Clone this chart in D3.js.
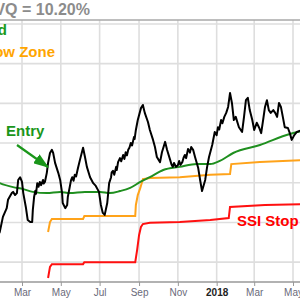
<!DOCTYPE html>
<html><head><meta charset="utf-8">
<script src="https://cdn.jsdelivr.net/npm/d3@7/dist/d3.min.js"></script>
<style>html,body{margin:0;padding:0;background:#fff;overflow:hidden}svg{display:block}</style>
</head><body><svg id="c" width="300" height="300"></svg>
<script>
const priceDates = ["2017-01-19","2017-01-25","2017-01-30","2017-02-05","2017-02-07","2017-02-13","2017-02-15","2017-02-18","2017-02-21","2017-02-23","2017-02-26","2017-03-01","2017-03-03","2017-03-07","2017-03-10","2017-03-14","2017-03-17","2017-03-18","2017-03-20","2017-03-22","2017-03-23","2017-03-25","2017-03-27","2017-03-29","2017-03-31","2017-04-03","2017-04-04","2017-04-06","2017-04-09","2017-04-11","2017-04-14","2017-04-17","2017-04-19","2017-04-22","2017-04-27","2017-04-30","2017-05-03","2017-05-04","2017-05-08","2017-05-11","2017-05-12","2017-05-15","2017-05-17","2017-05-19","2017-05-21","2017-05-23","2017-05-25","2017-05-28","2017-05-31","2017-06-05","2017-06-08","2017-06-11","2017-06-16","2017-06-21","2017-06-25","2017-06-30","2017-07-03","2017-07-06","2017-07-09","2017-07-13","2017-07-16","2017-07-19","2017-07-20","2017-07-22","2017-07-24","2017-07-27","2017-07-28","2017-07-30","2017-08-02","2017-08-04","2017-08-07","2017-08-09","2017-08-11","2017-08-13","2017-08-15","2017-08-17","2017-08-19","2017-08-21","2017-08-24","2017-08-25","2017-08-27","2017-08-30","2017-09-04","2017-09-07","2017-09-10","2017-09-15","2017-09-18","2017-09-23","2017-09-26","2017-09-29","2017-10-04","2017-10-07","2017-10-12","2017-10-15","2017-10-20","2017-10-22","2017-10-24","2017-10-26","2017-10-29","2017-11-01","2017-11-03","2017-11-05","2017-11-08","2017-11-10","2017-11-12","2017-11-14","2017-11-17","2017-11-20","2017-11-22","2017-11-25","2017-11-28","2017-12-03","2017-12-06","2017-12-09","2017-12-14","2017-12-17","2017-12-20","2017-12-25","2017-12-29","2018-01-01","2018-01-03","2018-01-05","2018-01-08","2018-01-10","2018-01-13","2018-01-16","2018-01-19","2018-01-22","2018-01-25","2018-01-28","2018-01-31","2018-02-05","2018-02-10","2018-02-13","2018-02-16","2018-02-19","2018-02-22","2018-02-26","2018-03-01","2018-03-05","2018-03-09","2018-03-12","2018-03-15","2018-03-18","2018-03-21","2018-03-24","2018-03-27","2018-03-31","2018-04-03","2018-04-06","2018-04-09","2018-04-12","2018-04-15","2018-04-18","2018-04-23","2018-04-26","2018-04-29","2018-05-03","2018-05-07","2018-05-15"];
const priceValues = [15.6,17.6,21.4,23.6,25.7,27.4,27.7,26.9,27.4,30.7,31.4,30.2,27.4,23.9,20.6,20.1,20.1,23.1,26.4,28.0,27.2,29.9,29.0,30.2,29.4,30.7,29.8,30.2,32.5,35.0,37.5,38.3,37.5,35.0,32.5,30.7,27.4,24.9,23.6,24.4,26.4,28.9,30.6,31.4,30.5,32.0,31.6,33.7,35.7,38.8,36.5,34.0,31.4,29.9,29.2,27.7,24.4,22.4,21.9,24.9,29.9,31.4,32.6,33.0,32.0,34.0,33.2,35.2,36.2,35.4,37.0,36.0,37.7,36.9,38.3,38.9,40.0,39.4,41.5,41.0,43.3,45.8,48.8,49.6,47.6,45.3,43.3,40.8,39.0,36.5,35.2,37.7,40.3,38.3,35.7,34.6,34.0,35.0,34.0,34.4,35.5,34.5,35.2,36.3,37.0,36.2,38.5,37.6,39.0,38.3,36.5,33.7,30.7,27.9,30.7,34.0,36.5,39.5,42.8,42.0,44.0,43.4,45.8,45.0,46.6,47.6,49.1,52.6,50.1,45.8,46.6,44.0,42.8,46.6,50.8,51.4,48.3,45.8,43.3,45.1,43.8,42.5,45.8,49.1,50.8,48.3,47.6,48.3,47.6,46.6,50.1,49.1,46.6,44.0,43.8,42.5,40.8,42.0,42.8,43.3];

const maDates = ["2017-01-18","2017-01-25","2017-02-15","2017-03-03","2017-03-18","2017-04-09","2017-04-30","2017-05-15","2017-06-08","2017-07-02","2017-07-17","2017-08-02","2017-08-18","2017-09-03","2017-09-18","2017-10-09","2017-11-04","2017-12-01","2017-12-22","2018-01-06","2018-01-27","2018-03-10","2018-04-26","2018-05-15"];
const maValues = [30.4,29.9,28.9,28.4,27.7,27.4,27.7,27.4,27.7,27.7,27.4,27.9,28.7,30.2,31.4,33.2,34.0,34.7,34.7,35.5,37.5,39.5,42.3,43.0];

const zoneDates = ["2017-04-11","2017-04-14","2017-04-17","2017-06-05","2017-06-07","2017-08-26","2017-08-27","2017-08-30","2017-09-03","2017-09-07","2017-09-18","2017-11-04","2017-12-22","2018-01-22","2018-01-24","2018-03-10","2018-05-17"];
const zoneValues = [17.6,20.1,20.9,20.9,21.6,21.6,24.4,26.9,28.7,30.9,31.2,31.4,32.0,32.2,34.7,35.2,35.7];

const stopDates = ["2017-04-11","2017-04-14","2017-04-17","2017-06-05","2017-06-07","2017-08-26","2017-08-29","2017-09-01","2017-09-04","2017-09-07","2017-09-18","2017-11-04","2017-12-22","2018-01-20","2018-01-22","2018-03-18","2018-05-17"];
const stopValues = [6.0,8.8,9.5,9.5,10.0,10.0,13.1,16.8,18.9,19.6,19.9,20.1,20.6,21.1,23.9,24.4,24.6];

const xTickDates = ["2017-03-01","2017-05-01","2017-07-01","2017-09-01","2017-11-01","2018-01-01","2018-03-01","2018-05-01"];
const xTickLabels = ["Mar","May","Jul","Sep","Nov","2018","Mar","May"];
const yTicks = [10,20,30,40,50,60,70];

const parse = d3.timeParse("%Y-%m-%d");
const zip = (ds, vs) => ds.map((d, i) => ({date: parse(d), value: vs[i]}));
const price = zip(priceDates, priceValues);
const ma = zip(maDates, maValues);
const zone = zip(zoneDates, zoneValues);
const stop = zip(stopDates, stopValues);

const svg = d3.select("#c");
const x = d3.scaleTime().domain([parse("2017-03-01"), parse("2018-05-01")]).range([22, 293]);
const y = d3.scaleLinear().domain([5, 71]).range([282, 20]);

const grid = svg.append("g");
grid.selectAll(".hg").data(yTicks).enter().append("line")
  .attr("x1", -10).attr("x2", 310).attr("y1", d => y(d)).attr("y2", d => y(d))
  .attr("stroke", "#dedede").attr("stroke-width", 1.6);
grid.selectAll(".vg").data(xTickDates).enter().append("line")
  .attr("x1", d => x(parse(d))).attr("x2", d => x(parse(d)))
  .attr("y1", y(71)).attr("y2", y(5))
  .attr("stroke", "#dedede").attr("stroke-width", 1.6);
svg.append("line").attr("x1", -10).attr("x2", 310).attr("y1", y(71)).attr("y2", y(71))
  .attr("stroke", "#a8a8a8").attr("stroke-width", 1.5);

const ax = svg.append("g").attr("transform", `translate(0,${y(5)})`)
  .call(d3.axisBottom(x).tickValues(xTickDates.map(parse)).tickFormat((d, i) => xTickLabels[i]).tickSize(4).tickPadding(3));
ax.select(".domain").attr("stroke", "#999").attr("stroke-width", 1.5).attr("d", "M-10,0H310");
ax.selectAll(".tick line").attr("stroke", "#999");
ax.selectAll(".tick text").attr("font-family", "'Liberation Sans', Arial, sans-serif").attr("font-size", 10)
  .attr("fill", "#6a6a7a")
  .attr("font-weight", (d, i) => xTickLabels[i] === "2018" ? "bold" : "normal")
  .filter((d, i) => xTickLabels[i] === "2018").attr("fill", "#222");

const line = d3.line().x(d => x(d.date)).y(d => y(d.value));
const smooth = d3.line().x(d => x(d.date)).y(d => y(d.value)).curve(d3.curveMonotoneX);

svg.append("path").datum(stop).attr("d", line).attr("fill", "none").attr("stroke", "#ff1010").attr("stroke-width", 2);
svg.append("path").datum(zone).attr("d", line).attr("fill", "none").attr("stroke", "#ffa31a").attr("stroke-width", 2);
svg.append("path").datum(ma).attr("d", smooth).attr("fill", "none").attr("stroke", "#1f8f1f").attr("stroke-width", 2);
svg.append("path").datum(price).attr("d", line).attr("fill", "none").attr("stroke", "#000").attr("stroke-width", 2).attr("stroke-linejoin", "round");

const ff = "'Liberation Sans', Arial, sans-serif";
svg.append("text").attr("x", 90).attr("y", 15).attr("text-anchor", "end")
  .attr("font-family", ff).attr("font-size", 16).attr("font-weight", "bold").attr("fill", "#8c8c8c")
  .text("VQ = 10.20%");
svg.append("text").attr("x", 7).attr("y", 35).attr("text-anchor", "end")
  .attr("font-family", ff).attr("font-size", 15).attr("font-weight", "bold").attr("fill", "#1a9a1a")
  .text("Uptrend");
svg.append("text").attr("x", 55).attr("y", 57).attr("text-anchor", "end")
  .attr("font-family", ff).attr("font-size", 15).attr("font-weight", "bold").attr("fill", "#ffa500")
  .text("Yellow Zone");
svg.append("text").attr("x", 6).attr("y", 136)
  .attr("font-family", ff).attr("font-size", 15).attr("font-weight", "bold").attr("fill", "#1a961a")
  .text("Entry");
svg.append("text").attr("x", 237).attr("y", 226)
  .attr("font-family", ff).attr("font-size", 15).attr("font-weight", "bold").attr("fill", "#ff0000")
  .text("SSI Stop");

svg.append("defs").append("marker").attr("id", "ah").attr("viewBox", "0 0 14 10")
  .attr("refX", 13).attr("refY", 5).attr("markerWidth", 7).attr("markerHeight", 5)
  .attr("orient", "auto").attr("markerUnits", "strokeWidth")
  .append("path").attr("d", "M0,0L14,5L0,10Z").attr("fill", "#1a961a");
svg.append("line").attr("x1", 17).attr("y1", 145).attr("x2", 48).attr("y2", 167)
  .attr("stroke", "#1a961a").attr("stroke-width", 2.2).attr("marker-end", "url(#ah)");
</script></body></html>
